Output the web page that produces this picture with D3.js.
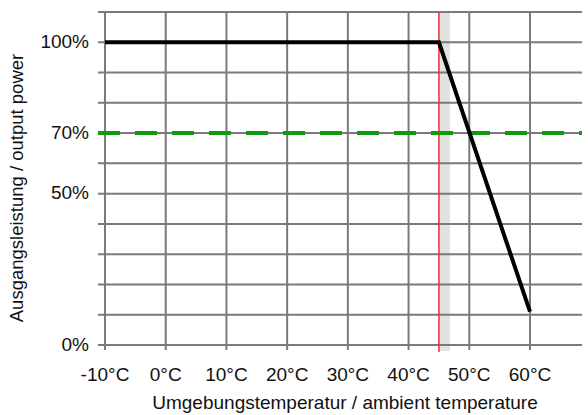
<!DOCTYPE html>
<html><head><meta charset="utf-8">
<script src="https://cdn.jsdelivr.net/npm/d3@7"></script>
<style>body{margin:0;background:#fff}svg{font-family:Arial,"Liberation Sans",sans-serif}</style>
</head><body><div id="chart"></div>
<script>
var tempTicks = [-10, 0, 10, 20, 30, 40, 50, 60];
var rowLines = [0, 1, 2, 3, 4, 5, 6, 7, 8, 9, 10, 11];
var yLabels = [{row: 10, text: "100%"}, {row: 7, text: "70%"}, {row: 5, text: "50%"}, {row: 0, text: "0%"}];
var derating = [{t: -10, r: 10}, {t: 45, r: 10}, {t: 60, r: 1.1}];
var limitRow = 7;
var markerTemp = 45;

var svg = d3.select("#chart").append("svg").attr("width", 588).attr("height", 415);

var x = d3.scaleLinear().domain([-10, 60]).range([105, 530]);
var y = d3.scaleLinear().domain([0, 11]).range([345, 12]);
var left = 98, right = 582;

// shaded band right of the marker
svg.append("rect")
	.attr("x", x(markerTemp)).attr("y", y(11))
	.attr("width", 11).attr("height", y(0) - y(11) + 6)
	.attr("fill", "#e2e2e2");

svg.selectAll("line.h").data(rowLines).enter().append("line")
	.attr("x1", left).attr("x2", right)
	.attr("y1", function(d) { return y(d); }).attr("y2", function(d) { return y(d); })
	.attr("stroke", "#7a7a7a").attr("stroke-width", 2);

svg.selectAll("line.v").data(tempTicks).enter().append("line")
	.attr("x1", function(d) { return x(d); }).attr("x2", function(d) { return x(d); })
	.attr("y1", y(11)).attr("y2", y(0) + 5)
	.attr("stroke", "#7a7a7a").attr("stroke-width", 2);

svg.append("line")
	.attr("x1", x(markerTemp)).attr("x2", x(markerTemp))
	.attr("y1", y(11)).attr("y2", y(0) + 7)
	.attr("stroke", "#e8302c").attr("stroke-width", 1.5);

svg.append("line")
	.attr("x1", left).attr("x2", right)
	.attr("y1", y(limitRow)).attr("y2", y(limitRow))
	.attr("stroke", "#109a10").attr("stroke-width", 4)
	.attr("stroke-dasharray", "22,15");

var line = d3.line().x(function(d) { return x(d.t); }).y(function(d) { return y(d.r); });
svg.append("path").datum(derating)
	.attr("d", line).attr("fill", "none")
	.attr("stroke", "#000").attr("stroke-width", 4);

svg.selectAll("text.yl").data(yLabels).enter().append("text")
	.attr("x", 89).attr("y", function(d) { return y(d.row); })
	.attr("dy", "0.3em").attr("text-anchor", "end")
	.attr("font-size", 19).attr("fill", "#111")
	.text(function(d) { return d.text; });

svg.selectAll("text.xl").data(tempTicks).enter().append("text")
	.attr("x", function(d) { return x(d); }).attr("y", 381)
	.attr("text-anchor", "middle")
	.attr("font-size", 19).attr("fill", "#111")
	.text(function(d) { return d + "°C"; });

svg.append("text")
	.attr("x", 345).attr("y", 409).attr("text-anchor", "middle")
	.attr("font-size", 19).attr("fill", "#111")
	.text("Umgebungstemperatur / ambient temperature");

svg.append("text")
	.attr("transform", "translate(23,188) rotate(-90)")
	.attr("text-anchor", "middle")
	.attr("font-size", 18.5).attr("fill", "#111")
	.text("Ausgangsleistung / output power");
</script></body></html>
